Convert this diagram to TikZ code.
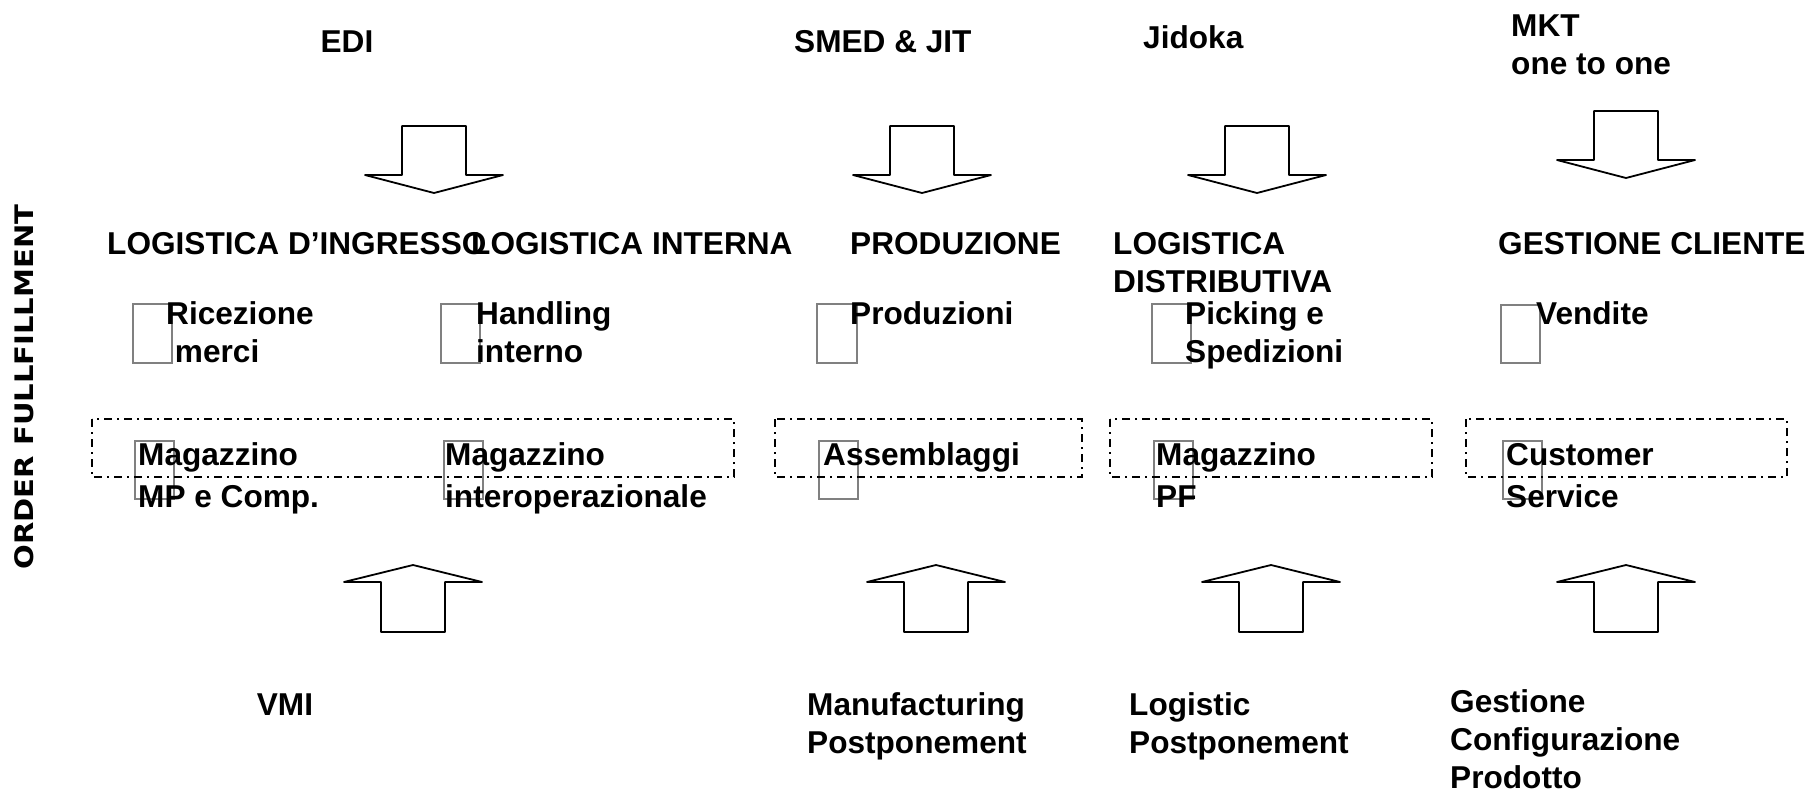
\documentclass[tikz,border=0pt]{standalone}
\usepackage{fontspec}
\setmainfont{Liberation Sans}
\newfontfamily\vertfont{DejaVu Sans}
\newcommand\mylines[2]{\vtop{\hbox{#1}\hbox{#2}}}
\newcommand\mythree[3]{\vtop{\hbox{#1}\hbox{#2}\hbox{#3}}}
\newcommand\blkdown[4]{\draw[blk] ({#1-32},#2) -- ({#1+32},#2) -- ({#1+32},#3) -- ({#1+69},#3) -- (#1,#4) -- ({#1-69},#3) -- ({#1-32},#3) -- cycle;}
\newcommand\blkup[4]{\draw[blk] ({#1-32},#2) -- ({#1+32},#2) -- ({#1+32},#3) -- ({#1+69},#3) -- (#1,#4) -- ({#1-69},#3) -- ({#1-32},#3) -- cycle;}
\begin{document}
\begin{tikzpicture}[x=1pt,y=-1pt,
  txt/.style={inner sep=0pt, anchor=base west, font=\fontsize{31.6}{38}\selectfont\bfseries},
  txtb/.style={inner sep=0pt, anchor=base west, font=\fontsize{31.6}{42}\selectfont\bfseries},
  grayrect/.style={draw=black!50, line width=1.6pt},
  dashbox/.style={draw=black, line width=1.5pt, dash pattern=on 8pt off 5pt on 2pt off 5pt},
  blk/.style={draw=black, line width=1.8pt, fill=white, line join=round}]
\useasboundingbox (0,0) rectangle (1814,793);

% vertical label
\node[rotate=90, inner sep=0pt] (of) at (24,387) {\scalebox{1.14}[1]{\vertfont\fontsize{25.5}{30}\selectfont\bfseries ORDER FULLFILLMENT}};

% top labels
\node[txt, anchor=base] (edi) at (347,52) {EDI};
\node[txt] (smed) at (794,52) {SMED \& JIT};
\node[txt] (jid) at (1143,48) {Jidoka};
\node[txt] (mkt) at (1511,36) {\mylines{MKT}{one to one}};

% down arrows
\blkdown{434}{126}{175}{193}
\blkdown{922}{126}{175}{193}
\blkdown{1257}{126}{175}{193}
\blkdown{1626}{111}{160}{178}

% headers
\node[txt] (h1) at (107,254) {LOGISTICA D’INGRESSO};
\node[txt] (h2) at (471,254) {LOGISTICA INTERNA};
\node[txt] (h3) at (850,254) {PRODUZIONE};
\node[txt] (h4) at (1113,254) {\mylines{LOGISTICA}{DISTRIBUTIVA}};
\node[txt] (h5) at (1498,254) {GESTIONE CLIENTE};

% gray markers row 2
\draw[grayrect] (133,304) rectangle (172,363);
\draw[grayrect] (441,304) rectangle (480,363);
\draw[grayrect] (817,304) rectangle (857,363);
\draw[grayrect] (1152,304) rectangle (1191,363);
\draw[grayrect] (1501,305) rectangle (1540,363);

% row 2 items
\node[txt] (r1) at (166,324) {\mylines{Ricezione}{\ merci}};
\node[txt] (r2) at (476,324) {\mylines{Handling}{interno}};
\node[txt] (r3) at (850,324) {Produzioni};
\node[txt] (r4) at (1185,324) {\mylines{Picking e}{Spedizioni}};
\node[txt] (r5) at (1536,324) {Vendite};

% gray markers row 3
\draw[grayrect] (135,441) rectangle (174,499);
\draw[grayrect] (444,441) rectangle (483,499);
\draw[grayrect] (819,441) rectangle (858,499);
\draw[grayrect] (1154,441) rectangle (1193,499);
\draw[grayrect] (1503,441) rectangle (1542,499);

% row 3 items
\node[txtb] (s1) at (138,465) {\mylines{Magazzino}{MP e Comp.}};
\node[txtb] (s2) at (445,465) {\mylines{Magazzino}{interoperazionale}};
\node[txtb] (s3) at (823,465) {Assemblaggi};
\node[txtb] (s4) at (1156,465) {\mylines{Magazzino}{PF}};
\node[txtb] (s5) at (1506,465) {\mylines{Customer}{Service}};

% dash-dot frames
\draw[dashbox] (92,419) rectangle (734,477);
\draw[dashbox] (775,419) rectangle (1082,477);
\draw[dashbox] (1110,419) rectangle (1432,477);
\draw[dashbox] (1466,419) rectangle (1787,477);

% up arrows
\blkup{413}{632}{582}{565}
\blkup{936}{632}{582}{565}
\blkup{1271}{632}{582}{565}
\blkup{1626}{632}{582}{565}

% bottom labels
\node[txt, anchor=base] (vmi) at (285,715) {VMI};
\node[txt] (mp) at (807,715) {\mylines{Manufacturing}{Postponement}};
\node[txt] (lp) at (1129,715) {\mylines{Logistic}{Postponement}};
\node[txt] (gc) at (1450,712) {\mythree{Gestione}{Configurazione}{Prodotto}};
\end{tikzpicture}
\end{document}
